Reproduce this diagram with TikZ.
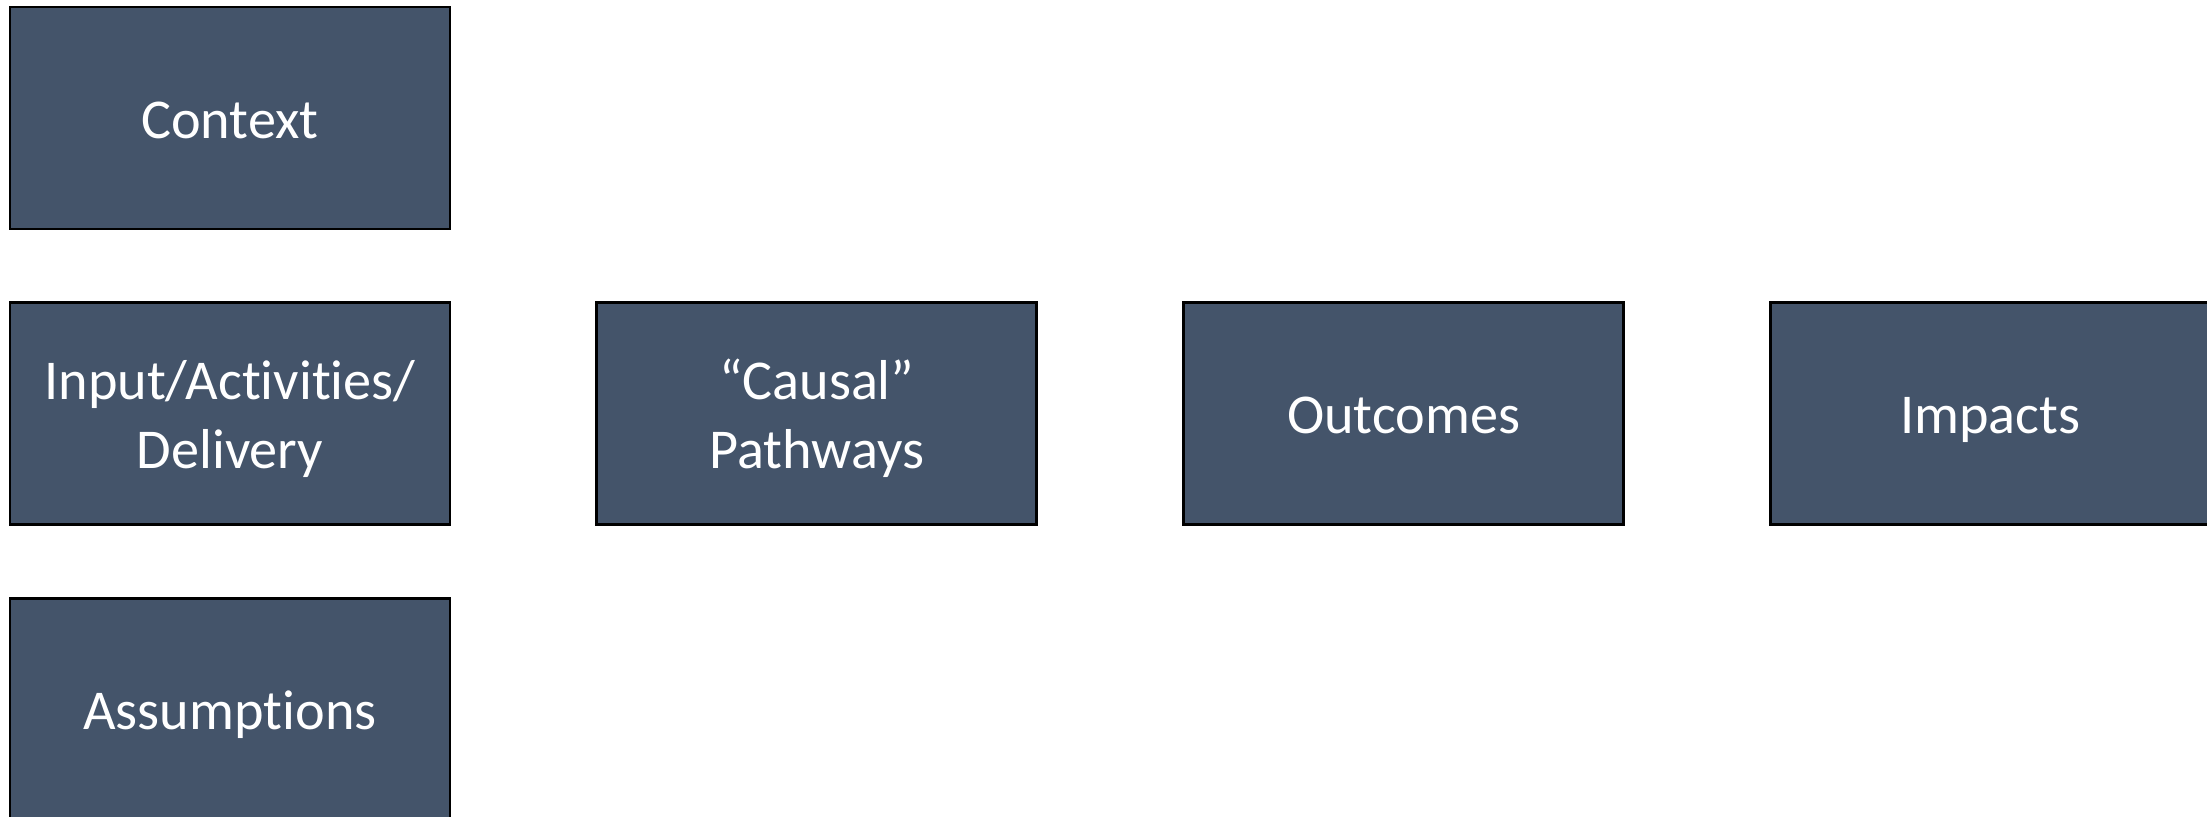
\documentclass[tikz,border=0pt]{standalone}
\usepackage{fontspec}
\setmainfont{Carlito}[Ligatures={NoCommon}]
\usepackage{tikz}
\usetikzlibrary{positioning}
\definecolor{boxslate}{HTML}{44546A}
\newcommand{\linestrut}{\rule[-4.6pt]{0pt}{20.6pt}}
\tikzset{
  stage/.style={draw=black, line width=0.8pt, fill=boxslate, text=white,
    minimum width=4.40cm, minimum height=2.22cm, inner sep=0pt,
    align=center, font=\fontsize{16}{19.6}\selectfont,
    execute at begin node=\linestrut, execute at end node=\linestrut},
  twoline/.style={execute at begin node=\rule{0pt}{35.5pt}}
}

\begin{document}
\begin{tikzpicture}
    \useasboundingbox (0,0) rectangle (22.07,8.16);
    % left column: context, delivery, assumptions
    \node[stage] (ctx) at (2.30,6.98) {Context};
    \node[stage, twoline, below=0.71cm of ctx] (input) {Input/Activities/\\Delivery};
    \node[stage, below=0.71cm of input] (assume) {Assumptions};
    % chain to the right
    \node[stage, twoline, right=1.44cm of input] (causal) {“Causal”\\Pathways};
    \node[stage, right=1.44cm of causal] (outc) {Outcomes};
    \node[stage, right=1.44cm of outc] (impact) {Impacts};
\end{tikzpicture}
\end{document}
